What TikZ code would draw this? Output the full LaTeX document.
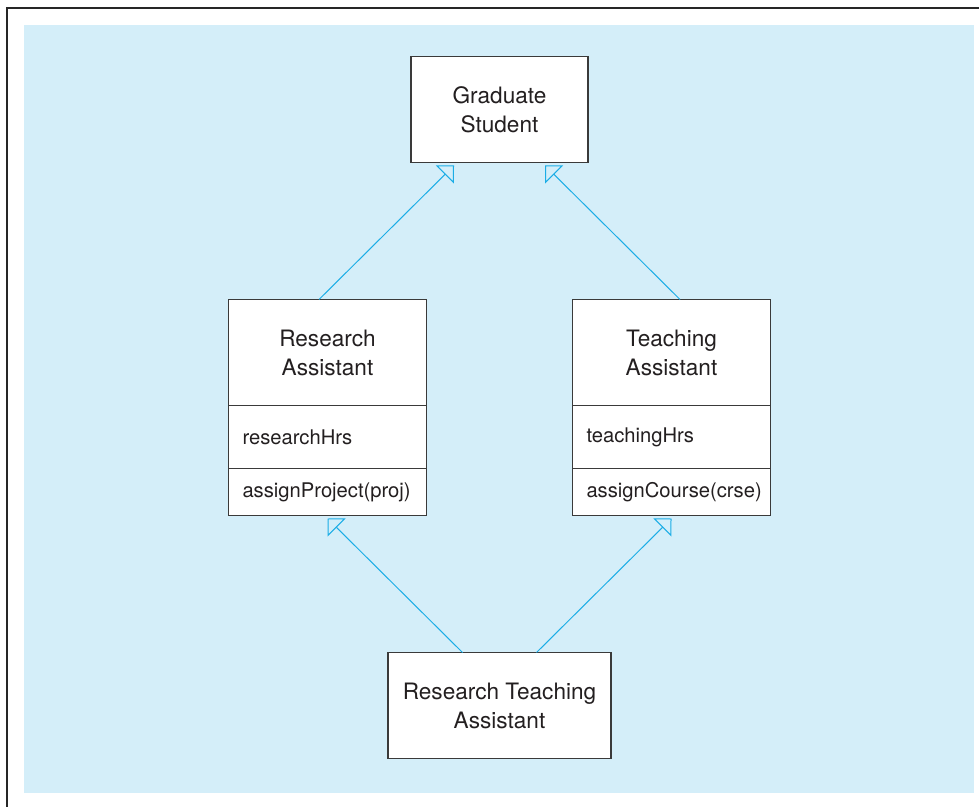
\documentclass[tikz,border=0pt]{standalone}
\usepackage{fontspec}
\setmainfont{TeX Gyre Heros}
\usepackage{xcolor}
\usetikzlibrary{positioning, arrows.meta}
\definecolor{bgBlue}{RGB}{212,238,249}
\definecolor{umlCyan}{RGB}{27,173,230}
\definecolor{boxGray}{RGB}{58,58,58}
\definecolor{textGray}{RGB}{35,31,32}
\newcommand{\clsfont}{\fontsize{11.3}{14.5}\selectfont}
\newcommand{\memfont}{\fontsize{10.1}{12}\selectfont}

\begin{document}
\begin{tikzpicture}[
    x=0.5pt, y=-0.5pt,
    clase/.style={
        rectangle,
        draw=boxGray,
        fill=white,
        text=textGray,
        line width=0.65pt,
        outer sep=0pt,
        align=center,
        minimum height=53pt,
        font=\clsfont
    },
    miembro/.style={
        rectangle,
        draw=boxGray,
        fill=white,
        text=textGray,
        line width=0.65pt,
        outer sep=0pt,
        inner xsep=7pt,
        text width=85pt,
        align=left,
        font=\memfont
    },
    herencia/.style={
        draw=umlCyan,
        line width=0.5pt,
        -{Triangle[open, length=6.4pt, width=12.7pt]}
    }
]

    \useasboundingbox (0,0) rectangle (979,807);
    \draw[line width=1.25pt, black!85] (7,807) |- (979,8);
    \fill[bgBlue] (24,25) rectangle (974,793);

    \node[clase, minimum width=88.5pt] (gs) at (499.5,109.5) {Graduate\\Student};

    \node[clase, minimum width=99pt, below=68.5pt of gs, xshift=-86pt] (ra) {Research\\Assistant};
    \node[miembro, minimum height=31.5pt, below=0pt of ra] (raAttr) {researchHrs};
    \node[miembro, minimum height=23.5pt, below=0pt of raAttr] (raOp) {assignProject(proj)};

    \node[clase, minimum width=99pt, below=68.5pt of gs, xshift=86pt] (ta) {Teaching\\Assistant};
    \node[miembro, minimum height=31.5pt, below=0pt of ta] (taAttr) {teachingHrs};
    \node[miembro, minimum height=23.5pt, below=0pt of taAttr] (taOp) {assignCourse(crse)};

    \node[clase, minimum width=111.5pt, below=68.5pt of raOp, xshift=86pt] (rta) {Research Teaching\\Assistant};

    \draw[herencia] ([xshift=-4.25pt]ra.north) -- ([xshift=-22.75pt, yshift=-1.5pt]gs.south);
    \draw[herencia] ([xshift=4.25pt]ta.north) -- ([xshift=22.75pt, yshift=-1.5pt]gs.south);
    \draw[herencia] ([xshift=-18.5pt]rta.north) -- ([yshift=-1.5pt]raOp.south);
    \draw[herencia] ([xshift=18.5pt]rta.north) -- ([yshift=-1.5pt]taOp.south);

\end{tikzpicture}
\end{document}
